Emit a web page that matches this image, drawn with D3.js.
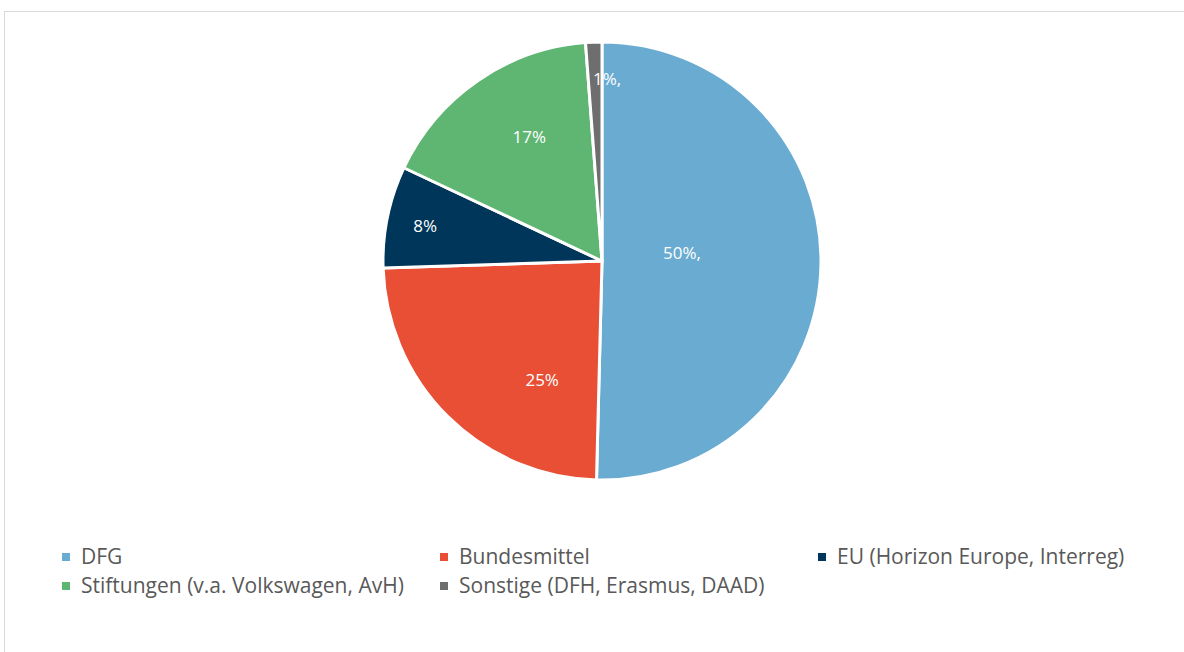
<!DOCTYPE html>
<html>
<head>
<meta charset="utf-8">
<script src="https://cdn.jsdelivr.net/npm/d3@7"></script>
<style>
  body { margin: 0; background: #fff; }
  svg { display: block; font-family: "Open Sans", "Noto Sans", sans-serif; }
</style>
</head>
<body>
<svg id="chart" width="1184" height="652"></svg>
<script>
// data
var categories = ["DFG", "Bundesmittel", "EU (Horizon Europe, Interreg)", "Stiftungen (v.a. Volkswagen, AvH)", "Sonstige (DFH, Erasmus, DAAD)"];
var shares = [50.4, 24.1, 7.5, 16.8, 1.2];
var labels = ["50%,", "25%", "8%", "17%", "1%,"];
var colors = ["#6aabd1", "#e84f35", "#003659", "#5fb672", "#6e6e6e"];

// where the labels sit: position along the slice angle (0..1) and fraction of radius
var labelAlong = [0.465, 0.29, 0.48, 0.57, 1.37];
var labelRadius = [0.367, 0.61, 0.823, 0.657, 0.83];

var svg = d3.select("svg#chart"),
    width = +svg.attr("width"),
    height = +svg.attr("height");

// chart frame
svg.append("rect")
    .attr("x", 4.5).attr("y", 11.5)
    .attr("width", width + 10).attr("height", height + 10)
    .attr("fill", "none").attr("stroke", "#d9d9d9").attr("stroke-width", 1);

var cx = 602, cy = 261, r = 219;

var pie = d3.pie().sort(null).value(function (d) { return d; });
var arcs = pie(shares);
var arc = d3.arc().innerRadius(0).outerRadius(r);

var g = svg.append("g").attr("transform", "translate(" + cx + "," + cy + ")");

g.selectAll("path")
    .data(arcs)
    .enter().append("path")
    .attr("d", arc)
    .attr("fill", function (d, i) { return colors[i]; })
    .attr("stroke", "#fff")
    .attr("stroke-width", 3)
    .attr("stroke-linejoin", "round");

g.selectAll("text.lbl")
    .data(arcs)
    .enter().append("text")
    .attr("class", "lbl")
    .attr("transform", function (d, i) {
        var a = d.startAngle + (d.endAngle - d.startAngle) * labelAlong[i];
        var rr = r * labelRadius[i];
        return "translate(" + (Math.sin(a) * rr) + "," + (-Math.cos(a) * rr) + ")";
    })
    .attr("text-anchor", "middle")
    .attr("dy", "0.35em")
    .attr("fill", "#fff")
    .attr("font-size", 17)
    .text(function (d, i) { return labels[i]; });

// legend, 3 columns
var colX = [62, 440, 818];
var rowY = [557, 586];
var legend = svg.append("g").selectAll("g")
    .data(categories)
    .enter().append("g")
    .attr("transform", function (d, i) {
        return "translate(" + colX[i % 3] + "," + rowY[Math.floor(i / 3)] + ")";
    });

legend.append("rect")
    .attr("x", 0).attr("y", -4)
    .attr("width", 8).attr("height", 8)
    .attr("fill", function (d, i) { return colors[i]; });

legend.append("text")
    .attr("x", 19)
    .attr("dy", "0.35em")
    .attr("fill", "#595959")
    .attr("font-size", 21)
    .text(function (d) { return d; });
</script>
</body>
</html>
